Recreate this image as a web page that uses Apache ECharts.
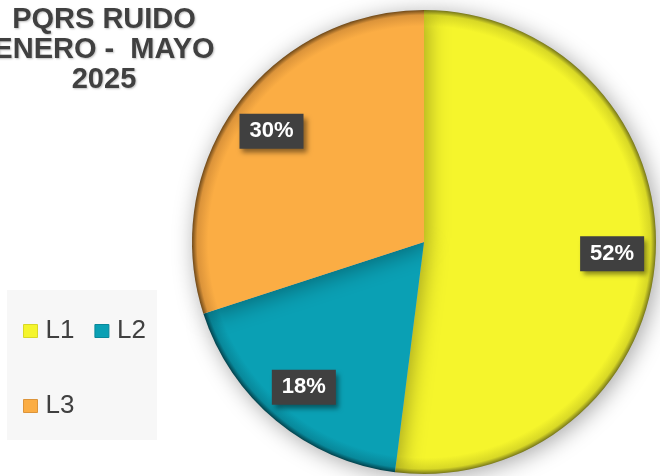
<!DOCTYPE html>
<html>
<head>
<meta charset="utf-8">
<script src="https://cdn.jsdelivr.net/npm/echarts@6/dist/echarts.min.js"></script>
<style>
html,body{margin:0;padding:0;background:#ffffff;}
#chart{width:660px;height:476px;}
</style>
</head>
<body>
<div id="chart"></div>
<script>
const categories = ['L1', 'L2', 'L3'];
const values = [52, 18, 30];
const titleLines = ['PQRS RUIDO', 'ENERO -  MAYO', '2025'];

const baseColors = ['#f5f52c', '#0aa0b4', '#fbad44'];
const midColors = ['#d8d826', '#08889a', '#dc943a'];
const edgeColors = ['#77771a', '#03414b', '#6e4818'];

const CX = 424, CY = 242, R = 232;
const FONT = '"Liberation Sans", Arial, Helvetica, sans-serif';

function grad(i) {
  return {
    type: 'radial', x: CX, y: CY, r: R, global: true,
    colorStops: [
      { offset: 0, color: baseColors[i] },
      { offset: 0.93, color: baseColors[i] },
      { offset: 0.978, color: midColors[i] },
      { offset: 1, color: edgeColors[i] }
    ]
  };
}

const pieData = categories.map((c, i) => ({
  name: c, value: values[i],
  itemStyle: { color: grad(i) }
}));
const labelData = categories.map((c, i) => ({ name: c, value: values[i] }));
const legendItems = categories.map((c, i) => ({ name: c, itemStyle: { color: baseColors[i], borderColor: midColors[i], borderWidth: 1 } }));

const legendCommon = {
  orient: 'horizontal', icon: 'rect', itemWidth: 14, itemHeight: 13, itemGap: 20,
  selectedMode: false, z: 5,
  textStyle: { fontSize: 26, color: '#404040', fontFamily: FONT, padding: [0, 0, 0, 3] }
};

const chart = echarts.init(document.getElementById('chart'), null, { renderer: 'canvas' });
chart.setOption({
  backgroundColor: '#ffffff',
  animation: false,
  color: baseColors,
  graphic: [
    { type: 'rect', z: 0, shape: { x: 7, y: 290, width: 150, height: 150 }, style: { fill: '#f7f7f7' } },
    {
      type: 'text', z: 10, x: 104, y: 5,
      style: {
        text: titleLines.join('\n'),
        fill: '#404040',
        font: 'bold 29px ' + FONT,
        lineHeight: 30,
        textAlign: 'center',
        textVerticalAlign: 'top',
        textShadowColor: 'rgba(0,0,0,0.25)', textShadowBlur: 2, textShadowOffsetX: 1, textShadowOffsetY: 1
      }
    }
  ],
  legend: [
    Object.assign({ data: legendItems.slice(0, 2), left: 18, top: 313 }, legendCommon),
    Object.assign({ data: legendItems.slice(2), left: 18, top: 388 }, legendCommon)
  ],
  series: [
    {
      type: 'pie', name: 'main',
      center: [CX, CY], radius: [0, R],
      startAngle: 90, clockwise: true,
      silent: true,
      label: { show: false }, labelLine: { show: false },
      itemStyle: {
        borderWidth: 0,
        shadowBlur: 22, shadowColor: 'rgba(0,0,0,0.35)', shadowOffsetX: 3, shadowOffsetY: 3
      },
      emphasis: { disabled: true },
      data: pieData
    },
    {
      type: 'pie', name: 'labels',
      center: [CX, CY], radius: [139, R],
      startAngle: 90, clockwise: true,
      silent: true,
      legendHoverLink: false,
      itemStyle: { color: 'rgba(0,0,0,0)', borderWidth: 0 },
      label: {
        show: true, position: 'inside',
        formatter: '{d}%',
        color: '#ffffff', fontWeight: 'bold', fontSize: 22, fontFamily: FONT,
        backgroundColor: '#404040',
        padding: [7, 10, 6, 10],
        shadowColor: 'rgba(0,0,0,0.45)', shadowBlur: 5, shadowOffsetX: 3, shadowOffsetY: 4
      },
      labelLine: { show: false },
      emphasis: { disabled: true },
      data: labelData
    }
  ]
});
</script>
</body>
</html>
